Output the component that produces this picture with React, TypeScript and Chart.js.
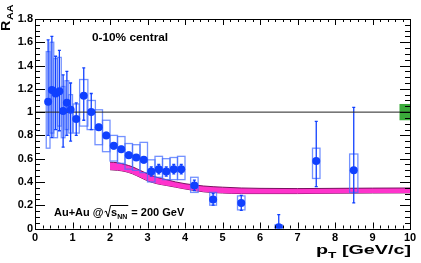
import React, { useEffect, useRef } from "react";
import { Chart, registerables } from "chart.js";
Chart.register(...registerables);

// ---- data ----
const pt = [0.35, 0.45, 0.55, 0.65, 0.75, 0.85, 0.95, 1.1, 1.3, 1.5, 1.7, 1.9, 2.1, 2.3, 2.5, 2.7, 2.9, 3.1, 3.3, 3.5, 3.7, 3.9, 4.25, 4.75, 5.5, 6.5, 7.5, 8.5];
const raa = [1.09, 1.19, 1.16, 1.18, 1.01, 1.08, 1.02, 0.94, 1.14, 1.0, 0.87, 0.8, 0.71, 0.68, 0.63, 0.61, 0.59, 0.49, 0.51, 0.49, 0.51, 0.51, 0.37, 0.25, 0.22, 0.01, 0.58, 0.5];
const statLo = [0.8, 0.78, 0.85, 0.84, 0.7, 0.8, 0.75, 0.8, 0.93, 0.85, 0.845, 0.775, 0.685, 0.655, 0.605, 0.585, 0.565, 0.45, 0.47, 0.45, 0.47, 0.47, 0.325, 0.2, 0.155, 0.0, 0.36, 0.22];
const statHi = [1.62, 1.65, 1.48, 1.53, 1.32, 1.35, 1.25, 1.08, 1.38, 1.16, 0.895, 0.825, 0.735, 0.705, 0.655, 0.635, 0.615, 0.53, 0.55, 0.53, 0.55, 0.55, 0.415, 0.3, 0.285, 0.12, 0.92, 1.04];
const sysLo = [0.69, 0.82, 0.78, 0.88, 0.78, 0.85, 0.82, 0.82, 0.88, 0.85, 0.72, 0.66, 0.58, 0.56, 0.51, 0.5, 0.48, 0.4, 0.44, 0.42, 0.42, 0.42, 0.31, 0.2, 0.16, 0.0, 0.43, 0.31];
const sysHi = [1.52, 1.6, 1.46, 1.47, 1.22, 1.27, 1.15, 1.07, 1.28, 1.1, 1.02, 0.93, 0.8, 0.79, 0.73, 0.72, 0.74, 0.59, 0.62, 0.6, 0.61, 0.62, 0.44, 0.31, 0.28, 0.03, 0.69, 0.64];
const sysHalfWidth = [0.05, 0.05, 0.05, 0.05, 0.05, 0.05, 0.05, 0.08, 0.11, 0.11, 0.1, 0.1, 0.1, 0.1, 0.1, 0.1, 0.1, 0.1, 0.1, 0.1, 0.1, 0.1, 0.1, 0.09, 0.1, 0.1, 0.1, 0.11];

const bandX = [2.0, 2.2, 2.4, 2.6, 2.8, 3.0, 3.25, 3.5, 3.75, 4.0, 4.5, 5.0, 5.5, 6.0, 7.0, 8.0, 9.0, 10.0];
const bandHi = [0.57, 0.565, 0.55, 0.53, 0.5, 0.47, 0.44, 0.42, 0.4, 0.385, 0.365, 0.355, 0.348, 0.345, 0.343, 0.345, 0.347, 0.348];
const bandLo = [0.505, 0.5, 0.49, 0.47, 0.44, 0.41, 0.385, 0.37, 0.355, 0.34, 0.315, 0.305, 0.3, 0.3, 0.3, 0.303, 0.305, 0.306];

const refLineX = [0, 10];
const refLineY = 1;
const normX = [9.72, 10];
const normY = [0.93, 1.07];

const xRange = [0, 10];
const yRange = [0, 1.8];

const FONT = '"Liberation Sans", Arial, Helvetica, sans-serif';
const BLUE = "#1040ff";

function drawBoxesAndBars(chart: any) {
  const ctx = chart.ctx;
  const xs = chart.scales.x;
  const ys = chart.scales.y;
  const ca = chart.chartArea;
  ctx.save();
  ctx.beginPath();
  ctx.rect(ca.left, ca.top, ca.right - ca.left, ca.bottom - ca.top);
  ctx.clip();
  // normalization box
  ctx.fillStyle = "#3aaa3a";
  const nx0 = xs.getPixelForValue(normX[0]);
  const nx1 = xs.getPixelForValue(normX[1]);
  const ny0 = ys.getPixelForValue(normY[1]);
  const ny1 = ys.getPixelForValue(normY[0]);
  ctx.fillRect(nx0, ny0, nx1 - nx0, ny1 - ny0);
  // systematic boxes
  ctx.strokeStyle = "rgba(70,110,255,0.75)";
  ctx.lineWidth = 1.3;
  for (let i = 0; i < pt.length; i++) {
    const x0 = xs.getPixelForValue(pt[i] - sysHalfWidth[i]);
    const x1 = xs.getPixelForValue(pt[i] + sysHalfWidth[i]);
    const y0 = ys.getPixelForValue(sysHi[i]);
    const y1 = ys.getPixelForValue(sysLo[i]);
    ctx.strokeRect(x0, y0, x1 - x0, y1 - y0);
  }
  // statistical error bars
  ctx.strokeStyle = BLUE;
  ctx.lineWidth = 1.3;
  for (let i = 0; i < pt.length; i++) {
    const x = xs.getPixelForValue(pt[i]);
    const y0 = ys.getPixelForValue(statHi[i]);
    const y1 = ys.getPixelForValue(statLo[i]);
    ctx.beginPath();
    ctx.moveTo(x, y0);
    ctx.lineTo(x, y1);
    ctx.moveTo(x - 1.5, y0);
    ctx.lineTo(x + 1.5, y0);
    ctx.moveTo(x - 1.5, y1);
    ctx.lineTo(x + 1.5, y1);
    ctx.stroke();
  }
  ctx.restore();
}

function drawFrameAndTicks(chart: any) {
  const ctx = chart.ctx;
  const xs = chart.scales.x;
  const ys = chart.scales.y;
  const ca = chart.chartArea;
  ctx.save();
  ctx.strokeStyle = "#000";
  ctx.lineWidth = 1;
  ctx.strokeRect(Math.round(ca.left) + 0.5, Math.round(ca.top) + 0.5, Math.round(ca.right - ca.left), Math.round(ca.bottom - ca.top));
  ctx.beginPath();
  for (let i = 0; i <= 36; i++) {
    const v = i * 0.05;
    const y = Math.round(ys.getPixelForValue(v)) + 0.5;
    const len = i % 4 === 0 ? 10 : 5;
    ctx.moveTo(ca.left, y);
    ctx.lineTo(ca.left + len, y);
    ctx.moveTo(ca.right, y);
    ctx.lineTo(ca.right - len, y);
  }
  for (let i = 0; i <= 50; i++) {
    const v = i * 0.2;
    const x = Math.round(xs.getPixelForValue(v)) + 0.5;
    const len = i % 5 === 0 ? 6 : 3;
    ctx.moveTo(x, ca.bottom);
    ctx.lineTo(x, ca.bottom - len);
    ctx.moveTo(x, ca.top);
    ctx.lineTo(x, ca.top + len);
  }
  ctx.stroke();
  ctx.restore();
}

function drawTexts(chart: any) {
  const ctx = chart.ctx;
  ctx.save();
  ctx.fillStyle = "#000";
  ctx.textBaseline = "alphabetic";
  ctx.textAlign = "left";

  // 0-10% central
  ctx.save();
  ctx.translate(92, 41);
  ctx.scale(1.18, 1);
  ctx.font = `bold 10px ${FONT}`;
  ctx.fillText("0-10% central", 0, 0);
  ctx.restore();

  // Au+Au @ sqrt(s_NN) = 200 GeV
  ctx.save();
  ctx.translate(54, 216);
  ctx.font = `bold 11px ${FONT}`;
  let x = 0;
  const t1 = "Au+Au @";
  ctx.fillText(t1, x, 0);
  x += ctx.measureText(t1).width + 1;
  // radical sign
  ctx.strokeStyle = "#000";
  ctx.lineWidth = 1;
  ctx.beginPath();
  ctx.moveTo(x, -4);
  ctx.lineTo(x + 1.5, -5);
  ctx.lineTo(x + 3.5, 1);
  ctx.lineTo(x + 6, -10.5);
  const rootStart = x + 6;
  x += 6.5;
  ctx.font = `bold 11px ${FONT}`;
  ctx.fillText("s", x, 0);
  x += ctx.measureText("s").width;
  ctx.font = `bold 7px ${FONT}`;
  ctx.fillText("NN", x, 3);
  x += ctx.measureText("NN").width + 1;
  ctx.lineTo(x, -10.5);
  ctx.stroke();
  ctx.font = `bold 11px ${FONT}`;
  ctx.fillText(" = 200 GeV", x, 0);
  ctx.restore();
  void rootStart;

  // R_AA (rotated)
  ctx.save();
  ctx.translate(10, 31);
  ctx.rotate(-Math.PI / 2);
  ctx.scale(1.2, 1);
  ctx.font = `bold 12px ${FONT}`;
  ctx.fillText("R", 0, 0);
  const rw = ctx.measureText("R").width;
  ctx.font = `bold 9px ${FONT}`;
  ctx.fillText("AA", rw + 0.5, 2.5);
  ctx.restore();

  // p_T [GeV/c]
  ctx.save();
  ctx.font = `bold 13px ${FONT}`;
  const pw = ctx.measureText("p").width;
  const rest = " [GeV/c]";
  const restW = ctx.measureText(rest).width;
  ctx.font = `bold 9px ${FONT}`;
  const tw = ctx.measureText("T").width;
  const total = pw + tw + restW;
  const sx = 95 / total;
  ctx.translate(316, 254);
  ctx.scale(sx, 1);
  ctx.font = `bold 13px ${FONT}`;
  ctx.fillText("p", 0, 0);
  ctx.font = `bold 9px ${FONT}`;
  ctx.fillText("T", pw, 3.5);
  ctx.font = `bold 13px ${FONT}`;
  ctx.fillText(rest, pw + tw, 0);
  ctx.restore();

  ctx.restore();
}

const overlayPlugin = {
  id: "overlay",
  afterDatasetDraw(chart: any, args: any) {
    if (args.index === 2) drawBoxesAndBars(chart);
  },
  afterDraw(chart: any) {
    drawFrameAndTicks(chart);
    drawTexts(chart);
  },
};

export default function App() {
  const ref = useRef<HTMLCanvasElement | null>(null);
  useEffect(() => {
    if (!ref.current) return;
    const points = pt.map((x, i) => ({ x, y: raa[i] }));
    const upper = bandX.map((x, i) => ({ x, y: bandHi[i] }));
    const lower = bandX.map((x, i) => ({ x, y: bandLo[i] }));
    const ref1 = refLineX.map((x) => ({ x, y: refLineY }));
    const tickFont = { family: FONT, weight: "bold" as const, size: 11 };
    const chart = new Chart(ref.current, {
      type: "line",
      data: {
        datasets: [
          {
            data: points,
            showLine: false,
            pointRadius: 4,
            pointBackgroundColor: BLUE,
            pointBorderColor: BLUE,
            pointBorderWidth: 0,
          },
          {
            data: ref1,
            borderColor: "#222",
            borderWidth: 1,
            pointRadius: 0,
            fill: false,
          },
          {
            data: upper,
            borderColor: "#7a1060",
            borderWidth: 1,
            pointRadius: 0,
            backgroundColor: "#ff33cc",
            fill: 3,
            cubicInterpolationMode: "monotone",
          },
          {
            data: lower,
            borderColor: "#7a1060",
            borderWidth: 1,
            pointRadius: 0,
            fill: false,
            cubicInterpolationMode: "monotone",
          },
        ] as any,
      },
      options: {
        responsive: false,
        animation: false,
        devicePixelRatio: 1,
        layout: { padding: { left: 0, right: 11, top: 19, bottom: 0 } },
        plugins: { legend: { display: false }, tooltip: { enabled: false } },
        scales: {
          x: {
            type: "linear",
            min: xRange[0],
            max: xRange[1],
            ticks: { stepSize: 1, font: tickFont, color: "#000", padding: 3, maxRotation: 0, autoSkip: false },
            grid: { display: false, drawTicks: false },
            border: { display: false },
            afterFit: (s: any) => {
              s.height = 34.5;
            },
          },
          y: {
            type: "linear",
            min: yRange[0],
            max: yRange[1],
            ticks: {
              stepSize: 0.2,
              font: tickFont,
              color: "#000",
              padding: 2,
              autoSkip: false,
              callback: (v: any) => String(Math.round(Number(v) * 10) / 10),
            },
            grid: { display: false, drawTicks: false },
            border: { display: false },
            afterFit: (s: any) => {
              s.width = 35;
            },
          },
        },
      } as any,
      plugins: [overlayPlugin],
    });
    return () => chart.destroy();
  }, []);
  return (
    <div style={{ position: "fixed", left: 0, top: 0, width: 421, height: 263, background: "#fff" }}>
      <canvas ref={ref} width={421} height={263} style={{ display: "block" }} />
    </div>
  );
}
